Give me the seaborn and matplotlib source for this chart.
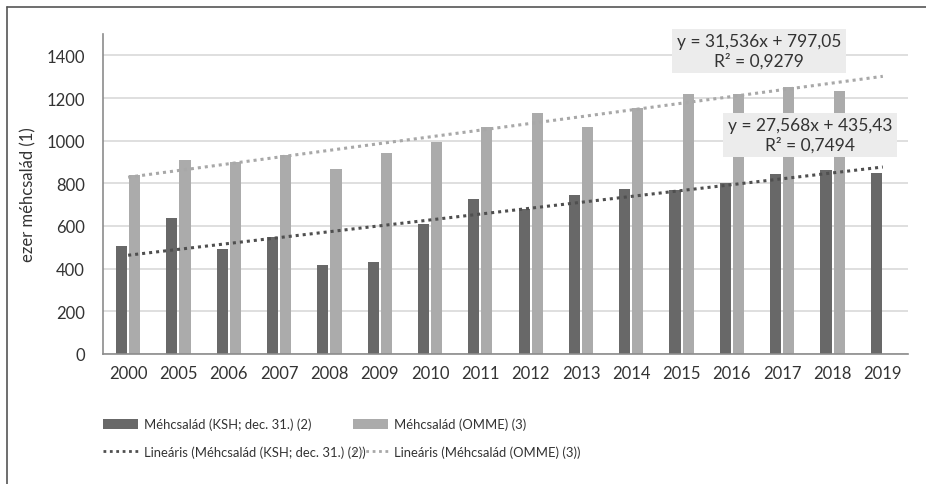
import numpy as np
import pandas as pd
import matplotlib
matplotlib.use("Agg")
import matplotlib.pyplot as plt
from matplotlib.lines import Line2D
from matplotlib.patches import Patch
import seaborn as sns

years = ["2000", "2005", "2006", "2007", "2008", "2009", "2010", "2011",
         "2012", "2013", "2014", "2015", "2016", "2017", "2018", "2019"]
ksh = [504, 639, 491, 550, 419, 430, 608, 726, 678, 744, 772, 771, 803, 843, 864, 848]
omme = [839, 909, 898, 932, 865, 942, 996, 1065, 1130, 1062, 1151, 1218, 1221, 1250, 1235, np.nan]
series_names = ["Méhcsalád (KSH; dec. 31.) (2)", "Méhcsalád (OMME) (3)"]
trend_names = ["Lineáris (Méhcsalád (KSH; dec. 31.) (2))", "Lineáris (Méhcsalád (OMME) (3))"]
trend_ksh = (27.568, 435.43, 0.7494)
trend_omme = (31.536, 797.05, 0.9279)
yticks = [0, 200, 400, 600, 800, 1000, 1200, 1400]

FONT = ["Lato", "DejaVu Sans"]
dark, light = "#686868", "#ababab"

sns.set_theme(style="white")
plt.rcParams["font.family"] = FONT

df = pd.DataFrame({
    "year": years * 2,
    "value": ksh + omme,
    "series": [series_names[0]] * len(years) + [series_names[1]] * len(years),
})

fig = plt.figure(figsize=(9.26, 4.85), dpi=100)
ax = fig.add_axes([103 / 926, 1 - 355 / 485, (908 - 103) / 926, (355 - 35) / 485])

sns.barplot(data=df, x="year", y="value", hue="series", order=years,
            hue_order=series_names, palette=[dark, light], width=0.52, gap=0.15,
            saturation=1, legend=False, ax=ax, linewidth=0)

xpos = np.arange(len(years))
ax.plot(xpos, trend_ksh[0] * (xpos + 1) + trend_ksh[1], linestyle=(0, (1, 1.3)),
        color="#4f4f4f", lw=2.2, zorder=3)
ax.plot(xpos, trend_omme[0] * (xpos + 1) + trend_omme[1], linestyle=(0, (1, 1.3)),
        color="#a8a8a8", lw=2.2, zorder=3)

ax.set_xlim(-0.5, len(years) - 0.5)
ax.set_ylim(0, 1500)
ax.set_yticks(yticks)
ax.set_yticklabels([str(v) for v in yticks])
ax.yaxis.grid(True, color="#d9d9d9", lw=1.2)
ax.set_axisbelow(True)
for s in ["top", "right"]:
    ax.spines[s].set_visible(False)
for s in ["left", "bottom"]:
    ax.spines[s].set_color("#8c8c8c")
    ax.spines[s].set_linewidth(1.2)
ax.tick_params(axis="both", length=0, labelsize=12, colors="#333333")
ax.tick_params(axis="y", pad=13)
ax.tick_params(axis="x", pad=8)
ax.set_xlabel("")
ax.set_ylabel("ezer méhcsalád (1)", fontsize=12, color="#333333", labelpad=7)

def fmt(v, d):
    return f"{v:.{d}f}".replace(".", ",")

fig.text(759 / 926, 1 - 52 / 485,
         f"y = {fmt(trend_omme[0], 3)}x + {fmt(trend_omme[1], 2)}\nR² = {fmt(trend_omme[2], 4)}",
         ha="center", va="center", fontsize=12.5, color="#333333", linespacing=1.25,
         bbox=dict(boxstyle="square,pad=0.25", fc="#ececec", ec="none"), zorder=5)
fig.text(810 / 926, 1 - 136 / 485,
         f"y = {fmt(trend_ksh[0], 3)}x + {fmt(trend_ksh[1], 2)}\nR² = {fmt(trend_ksh[2], 4)}",
         ha="center", va="center", fontsize=12.5, color="#333333", linespacing=1.25,
         bbox=dict(boxstyle="square,pad=0.25", fc="#ececec", ec="none"), zorder=5)

leg_kw = dict(loc="upper left", frameon=False, prop=dict(family=FONT, size=9.4),
              handlelength=2.7, handleheight=0.8, handletextpad=0.45, labelspacing=1.15,
              labelcolor="#333333")
col1 = [Patch(facecolor=dark, edgecolor="none"),
        Line2D([], [], color="#4f4f4f", lw=2, linestyle=(0, (1, 1.3)))]
col2 = [Patch(facecolor=light, edgecolor="none"),
        Line2D([], [], color="#a8a8a8", lw=2, linestyle=(0, (1, 1.3)))]
fig.legend(col1, [series_names[0], trend_names[0]],
           bbox_to_anchor=(91 / 926, 1 - 407 / 485), **leg_kw)
fig.legend(col2, [series_names[1], trend_names[1]],
           bbox_to_anchor=(341 / 926, 1 - 407 / 485), **leg_kw)

fig.add_artist(Line2D([7 / 926, 7 / 926], [0, 1 - 8 / 485], color="#555555", lw=1.2,
                      transform=fig.transFigure))
fig.add_artist(Line2D([7 / 926, 1], [1 - 8 / 485, 1 - 8 / 485], color="#555555", lw=1.2,
                      transform=fig.transFigure))

fig.savefig("out.png", dpi=100)
